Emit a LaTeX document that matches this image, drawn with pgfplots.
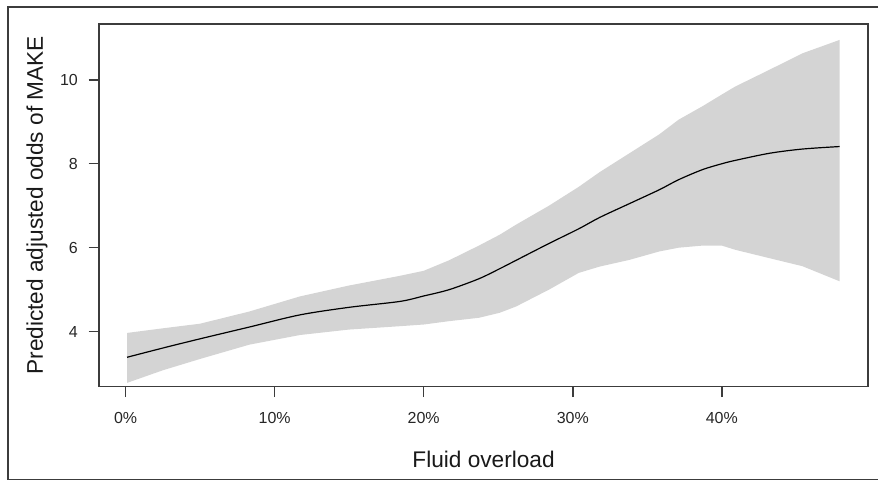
\documentclass[border=0pt]{standalone}
\usepackage{pgfplots}
\pgfplotsset{compat=1.18}
\usepgfplotslibrary{fillbetween}
\usepackage{fontspec}
\setmainfont{Liberation Sans}
\definecolor{bandgray}{RGB}{212,212,212}
\definecolor{framegray}{RGB}{60,60,60}

\pgfplotstableread{
x     lo    mid   hi
0.1   2.78  3.39  3.97
2.5   3.08  3.61  4.08
5.0   3.35  3.83  4.19
8.3   3.69  4.11  4.48
11.7  3.92  4.40  4.84
15.0  4.05  4.58  5.10
18.4  4.13  4.72  5.33
20.0  4.17  4.85  5.45
21.7  4.25  5.00  5.70
23.7  4.33  5.26  6.05
25.1  4.45  5.50  6.31
26.2  4.60  5.70  6.55
28.4  5.00  6.10  7.00
30.4  5.40  6.45  7.45
31.8  5.55  6.72  7.80
33.8  5.71  7.05  8.25
35.8  5.91  7.38  8.70
37.1  6.00  7.62  9.05
38.7  6.05  7.86  9.37
40.0  6.05  8.00  9.65
40.9  5.95  8.08  9.84
43.2  5.75  8.25  10.24
45.4  5.56  8.35  10.63
47.9  5.20  8.41  10.95
}\fodata

\begin{document}
\begin{tikzpicture}
\begin{axis}[
  at={(0pt,0pt)}, anchor=south west,
  scale only axis,
  width=577.5pt, height=272.25pt,
  xmin=-1.79, xmax=49.82,
  ymin=2.69, ymax=11.33,
  axis line style={framegray, line width=1.2pt},
  tick style={draw=framegray, line width=1.1pt},
  tick align=outside,
  major tick length=7.8pt,
  xtick={0,10,20,30,40},
  xticklabels={0\%,10\%,20\%,30\%,40\%},
  ytick={4,6,8,10},
  xtick pos=bottom, ytick pos=left,
  tick label style={font=\fontsize{12}{14}\selectfont, text=black!85},
  xticklabel style={yshift=-8.25pt},
  yticklabel style={xshift=-4.5pt},
  /pgf/number format/assume math mode=true,
  xlabel={Fluid overload},
  ylabel={Predicted adjusted odds of MAKE},
  label style={font=\fontsize{17}{20}\selectfont, text=black!90},
  xlabel style={at={(axis description cs:0.5,0)}, anchor=center, yshift=-54.75pt},
  ylabel style={at={(axis description cs:0,0.5)}, anchor=center, yshift=46.5pt},
]
\addplot[name path=upper, draw=none, forget plot] table[x=x, y=hi] {\fodata};
\addplot[name path=lower, draw=none, forget plot] table[x=x, y=lo] {\fodata};
\addplot[bandgray, draw=none] fill between[of=upper and lower];
\addplot[black, line width=0.9pt, smooth, tension=0.5] table[x=x, y=mid] {\fodata};
\end{axis}
\draw[framegray, line width=1.2pt] (585pt,285pt) -- (-68.25pt,285pt) -- (-68.25pt,-69.75pt) -- (585pt,-69.75pt);
\path (-74.25pt,-70.5pt) rectangle (585pt,290.25pt);
\end{tikzpicture}
\end{document}
